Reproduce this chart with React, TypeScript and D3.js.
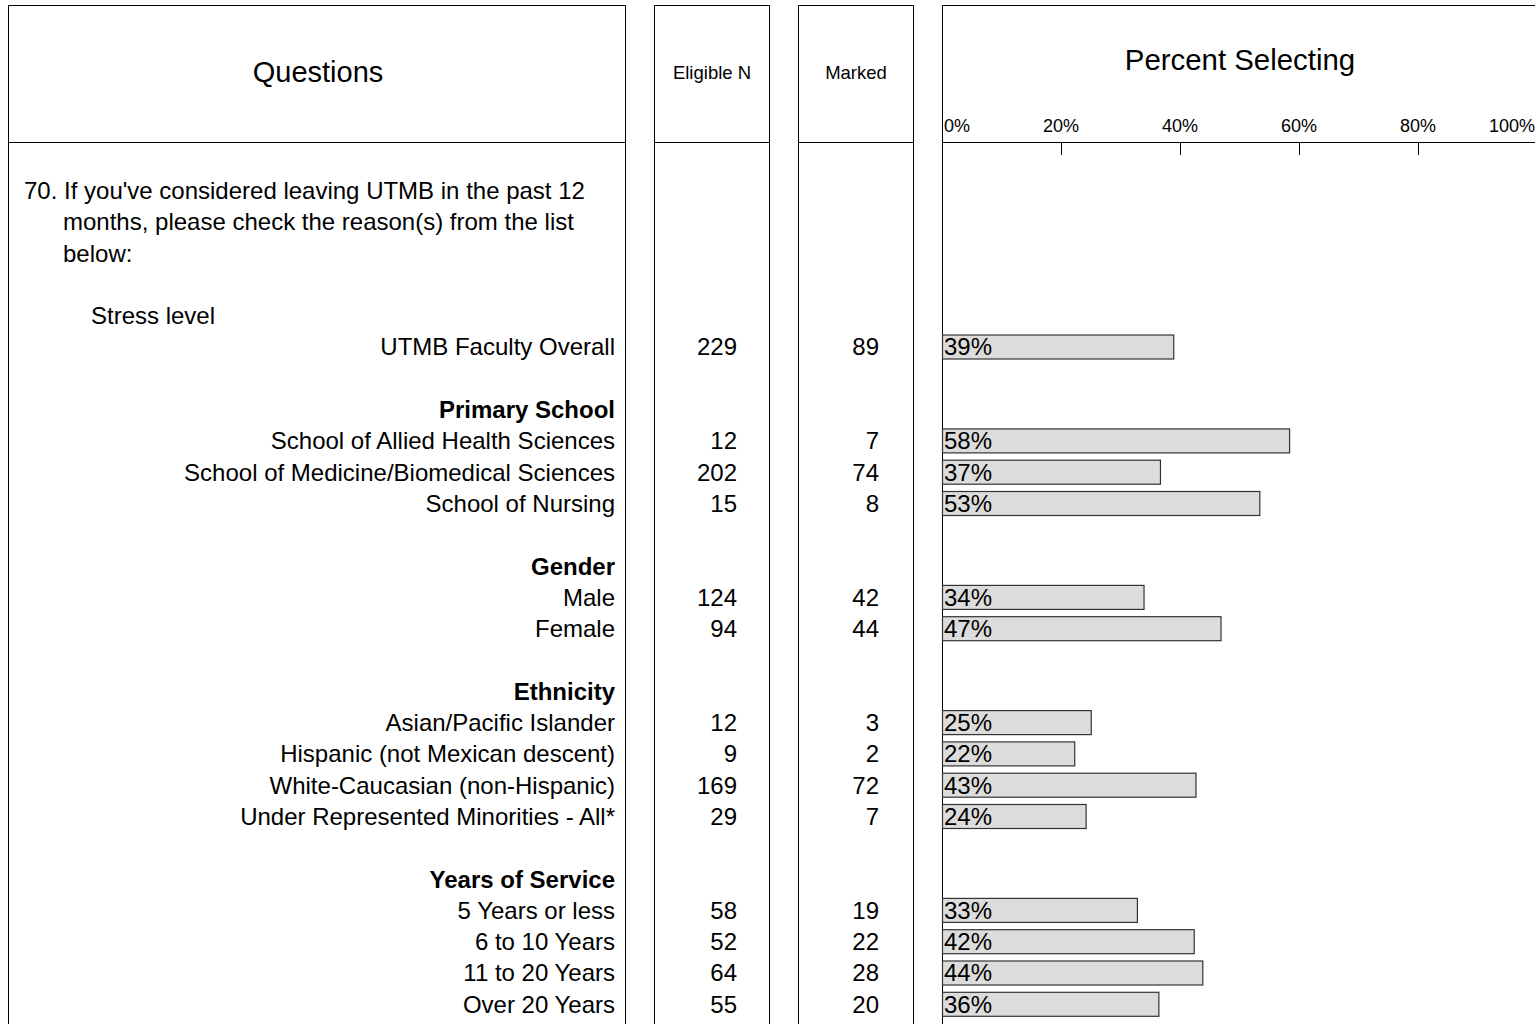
import React from "react";
import * as d3 from "d3";

const questionLines = [
  "70. If you've considered leaving UTMB in the past 12",
  "months, please check the reason(s) from the list",
  "below:",
];
const subQuestion = "Stress level";

type Row = { label: string; kind: "header" | "data"; eligible?: number; marked?: number };

const groupNames = ["Primary School", "Gender", "Ethnicity", "Years of Service"];
const groupLabels = [
  ["School of Allied Health Sciences", "School of Medicine/Biomedical Sciences", "School of Nursing"],
  ["Male", "Female"],
  ["Asian/Pacific Islander", "Hispanic (not Mexican descent)", "White-Caucasian (non-Hispanic)", "Under Represented Minorities - All*"],
  ["5 Years or less", "6 to 10 Years", "11 to 20 Years", "Over 20 Years"],
];
const groupEligible = [[12, 202, 15], [124, 94], [12, 9, 169, 29], [58, 52, 64, 55]];
const groupMarked = [[7, 74, 8], [42, 44], [3, 2, 72, 7], [19, 22, 28, 20]];
const overallLabel = "UTMB Faculty Overall";
const overallEligible = 229;
const overallMarked = 89;
const tickValues = [0, 0.2, 0.4, 0.6, 0.8, 1];

const FONT = "'Liberation Sans', Arial, Helvetica, sans-serif";
const FS = 24;

function buildRows(): { row: Row; idx: number }[] {
  const out: { row: Row; idx: number }[] = [];
  let idx = 0;
  out.push({ row: { label: overallLabel, kind: "data", eligible: overallEligible, marked: overallMarked }, idx });
  idx += 2;
  groupNames.forEach((g, gi) => {
    out.push({ row: { label: g, kind: "header" }, idx });
    idx += 1;
    groupLabels[gi].forEach((l, li) => {
      out.push({ row: { label: l, kind: "data", eligible: groupEligible[gi][li], marked: groupMarked[gi][li] }, idx });
      idx += 1;
    });
    idx += 1;
  });
  return out;
}

export default function App() {
  const W = 1535;
  const H = 1024;
  const y = d3.scaleLinear().domain([0, 1]).range([347, 378.3]);
  const x = d3.scaleLinear().domain([0, 1]).range([942, 1537]);
  const rows = buildRows();
  const fmt = d3.format(".0%");
  const top = 5;
  const headBottom = 142;
  const bottom = H + 10;
  const panels = [
    [8, 625],
    [654, 769],
    [798, 913],
  ];

  return (
    <svg
      width={W}
      height={H}
      style={{ position: "absolute", left: 0, top: 0, background: "#fff" }}
      fontFamily={FONT}
    >
      <rect x={0} y={0} width={W} height={H} fill="#fff" />
      {panels.map(([a, b], i) => (
        <g key={i} fill="none" stroke="#000" strokeWidth={1}>
          <path d={`M${a + 0.5},${bottom}V${top + 0.5}H${b + 0.5}V${bottom}`} />
          <line x1={a} x2={b + 1} y1={headBottom + 0.5} y2={headBottom + 0.5} />
        </g>
      ))}
      <g fill="none" stroke="#000" strokeWidth={1}>
        <path d={`M${942.5},${bottom}V${top + 0.5}H${W + 5}`} />
        <line x1={942} x2={W + 5} y1={headBottom + 0.5} y2={headBottom + 0.5} />
        {tickValues
          .filter((t) => t > 0 && t < 1)
          .map((t) => (
            <line key={t} x1={Math.round(x(t)) + 0.5} x2={Math.round(x(t)) + 0.5} y1={headBottom} y2={155} />
          ))}
      </g>
      <text x={318} y={72} fontSize={29} textAnchor="middle" dy="0.35em">Questions</text>
      <text x={712} y={73} fontSize={18.5} textAnchor="middle" dy="0.35em">Eligible N</text>
      <text x={856} y={73} fontSize={18.5} textAnchor="middle" dy="0.35em">Marked</text>
      <text x={1240} y={60} fontSize={29.4} textAnchor="middle" dy="0.35em">Percent Selecting</text>
      {tickValues.map((t, i) => (
        <text
          key={t}
          x={i === 0 ? 944 : i === tickValues.length - 1 ? 1535 : x(t)}
          y={126}
          fontSize={18}
          textAnchor={i === 0 ? "start" : i === tickValues.length - 1 ? "end" : "middle"}
          dy="0.35em"
        >
          {fmt(t)}
        </text>
      ))}
      {questionLines.map((q, i) => (
        <text key={i} x={i === 0 ? 24 : 63} y={y(-5 + i)} fontSize={FS} dy="0.35em">
          {q}
        </text>
      ))}
      <text x={91} y={y(-1)} fontSize={FS} dy="0.35em">{subQuestion}</text>
      {rows.map(({ row, idx }) => {
        const cy = y(idx);
        if (row.kind === "header") {
          return (
            <text key={row.label} x={615} y={cy} fontSize={FS} fontWeight="bold" textAnchor="end" dy="0.35em">
              {row.label}
            </text>
          );
        }
        const p = (row.marked as number) / (row.eligible as number);
        return (
          <g key={row.label}>
            <text x={615} y={cy} fontSize={FS} textAnchor="end" dy="0.35em">{row.label}</text>
            <text x={737} y={cy} fontSize={FS} textAnchor="end" dy="0.35em">{row.eligible}</text>
            <text x={879} y={cy} fontSize={FS} textAnchor="end" dy="0.35em">{row.marked}</text>
            <rect
              x={x(0) + 0.5}
              y={cy - 12}
              width={x(p) - x(0)}
              height={24}
              fill="#dcdcdc"
              stroke="#333"
              strokeWidth={1.2}
            />
            <text x={944} y={cy} fontSize={FS} dy="0.35em">{fmt(p)}</text>
          </g>
        );
      })}
    </svg>
  );
}
